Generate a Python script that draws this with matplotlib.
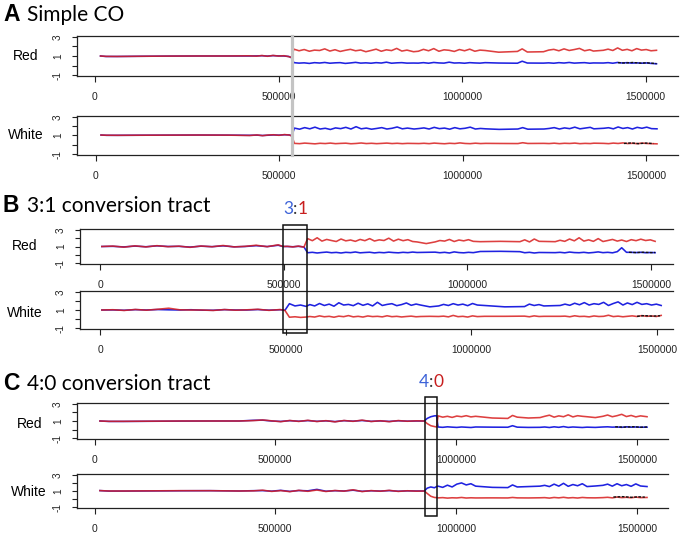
import matplotlib
matplotlib.use("Agg")
import matplotlib.pyplot as plt
import matplotlib.transforms as mtrans
from matplotlib.lines import Line2D
from matplotlib.patches import Rectangle
import numpy as np

# ---------------- DATA (positions in kb, values = log ratio) ----------------
xticks = [0, 500000, 1000000, 1500000]
xtick_labels = ["0", "500000", "1000000", "1500000"]
yticks = [-1, 0, 1, 2, 3]
ytick_labels = ["-1", "", "1", "", "3"]

posA = [15, 30, 60, 120, 200, 280, 360, 420, 440, 455, 470, 485, 500, 515, 528, 535,
        542, 556, 570, 584, 598, 612, 626, 640, 654, 668, 682, 696, 710, 724, 738, 752, 766, 780, 794, 808, 822, 836, 850,
        868, 881,
        895, 909, 923, 937, 951, 965, 979, 993, 1007, 1021, 1035, 1049, 1063,
        1100, 1151,
        1164,
        1178, 1222,
        1236, 1250, 1264, 1278, 1292, 1306, 1320, 1334, 1348, 1358,
        1385,
        1398, 1411, 1424, 1437, 1450, 1463, 1476, 1489, 1502, 1515, 1530]
A_red_red = [1.00, 0.96, 0.95, 0.97, 0.99, 1.00, 1.00, 1.02, 0.98, 1.05, 0.97, 1.06, 0.99, 1.03, 0.93, 0.85,
             1.72, 1.55, 1.68, 1.50, 1.62, 1.58, 1.75, 1.52, 1.66, 1.48, 1.60, 1.70, 1.55, 1.63, 1.45, 1.58, 1.72, 1.50, 1.65, 1.57, 1.80, 1.52, 1.62,
             1.45, 1.50,
             1.70, 1.55, 1.78, 1.50, 1.65, 1.60, 1.48, 1.68, 1.55, 1.72, 1.50, 1.62, 1.58,
             1.40, 1.48,
             1.75,
             1.42, 1.45,
             1.62, 1.70, 1.55, 1.75, 1.58, 1.68, 1.80, 1.55, 1.66, 1.52,
             1.60,
             1.72, 1.58, 1.85, 1.60, 1.70, 1.55, 1.78, 1.62, 1.68, 1.55, 1.60]
A_red_blue = [1.00, 0.95, 0.95, 0.97, 0.99, 1.00, 1.00, 1.00, 1.01, 1.03, 0.99, 1.04, 1.01, 1.00, 0.95, 0.83,
              0.30, 0.25, 0.28, 0.22, 0.30, 0.26, 0.32, 0.24, 0.28, 0.30, 0.22, 0.27, 0.33, 0.25, 0.28, 0.24, 0.30, 0.26, 0.35, 0.24, 0.28, 0.30, 0.25,
              0.26, 0.25,
              0.30, 0.24, 0.32, 0.27, 0.25, 0.35, 0.26, 0.28, 0.24, 0.30, 0.27, 0.25, 0.30,
              0.26, 0.24,
              0.45,
              0.26, 0.25,
              0.28, 0.24, 0.30, 0.26, 0.32, 0.25, 0.28, 0.30, 0.24, 0.27,
              0.26,
              0.30, 0.24, 0.32, 0.26, 0.30, 0.25, 0.28, 0.24, 0.27, 0.22, 0.18]
A_white_red = [1.05, 1.03, 1.02, 1.03, 1.04, 1.05, 1.04, 1.00, 1.06, 0.98, 1.05, 1.08, 1.02, 1.10, 1.05, 0.95,
               0.15, 0.12, 0.18, 0.14, 0.10, 0.16, 0.13, 0.18, 0.12, 0.15, 0.17, 0.11, 0.14, 0.19, 0.13, 0.16, 0.12, 0.15, 0.18, 0.13, 0.16, 0.12, 0.15,
               0.14, 0.13,
               0.16, 0.12, 0.18, 0.14, 0.11, 0.16, 0.13, 0.20, 0.14, 0.12, 0.17, 0.13, 0.15,
               0.14, 0.13,
               0.22,
               0.14, 0.15,
               0.13, 0.17, 0.12, 0.16, 0.14, 0.18, 0.12, 0.15, 0.13, 0.17,
               0.15,
               0.12, 0.18, 0.14, 0.20, 0.13, 0.16, 0.12, 0.18, 0.14, 0.12, 0.10]
A_white_blue = [1.05, 1.02, 1.02, 1.03, 1.04, 1.05, 1.04, 1.02, 1.04, 1.00, 1.03, 1.06, 1.04, 1.08, 1.06, 0.97,
                1.80, 1.68, 1.85, 1.72, 1.90, 1.70, 1.78, 1.65, 1.82, 1.74, 1.88, 1.70, 1.95, 1.72, 1.80, 1.68, 1.76, 1.85, 1.70, 1.78, 1.92, 1.72, 1.80,
                1.70, 1.75,
                1.82, 1.70, 1.88, 1.74, 1.80, 1.68, 1.85, 1.72, 1.78, 1.90, 1.70, 1.76, 1.72,
                1.66, 1.70,
                1.85,
                1.68, 1.70,
                1.76, 1.85, 1.70, 1.82, 1.74, 1.90, 1.72, 1.80, 1.88, 1.72,
                1.78,
                1.84, 1.72, 1.92, 1.76, 1.85, 1.70, 1.88, 1.78, 1.90, 1.74, 1.72]
A_red_black_pos = [1425, 1445, 1465, 1485, 1505, 1530]
A_red_black = [0.30, 0.26, 0.32, 0.25, 0.28, 0.20]
A_white_black_pos = [1440, 1460, 1480, 1500, 1520]
A_white_black = [0.14, 0.20, 0.12, 0.18, 0.13]

posB = [5, 35, 65, 95, 125, 155, 185, 215, 245, 275, 305, 335, 365, 395, 425, 455, 485, 498,
        510, 525, 540, 555,
        565, 578, 591, 604, 617, 630, 643, 656, 669, 682, 695, 708, 721, 734, 747, 760, 773, 786, 799, 812, 825, 838, 851, 863,
        888, 912,
        925, 938, 951, 964, 977, 990, 1003, 1016, 1035,
        1090, 1143,
        1156, 1169, 1182, 1195,
        1239,
        1252, 1265, 1278, 1291, 1304, 1317, 1330, 1343, 1356, 1369, 1382, 1395, 1408, 1420, 1433, 1446, 1459, 1472, 1485, 1498, 1511]
B_red_red = [1.00, 1.05, 0.92, 1.08, 0.95, 1.10, 0.98, 1.04, 0.90, 1.06, 0.97, 1.12, 0.95, 1.02, 1.15, 0.98, 1.20, 1.00,
             1.02, 0.95, 1.05, 0.92,
             1.95, 1.70, 2.05, 1.65, 1.85, 1.72, 1.60, 1.90, 1.68, 1.78, 1.62, 1.85, 1.70, 1.95, 1.66, 1.80, 1.72, 2.00, 1.65, 1.88, 1.70, 1.82, 1.60, 1.55,
             1.35, 1.55,
             1.72, 1.65, 1.85, 1.60, 1.78, 1.68, 1.82, 1.62, 1.58,
             1.62, 1.58,
             1.80, 1.55, 1.90, 1.62,
             1.58,
             1.75, 1.62, 1.90, 1.68, 2.05, 1.65, 1.80, 1.62, 1.95, 1.60, 1.72, 1.85, 1.65, 1.78, 1.60, 1.82, 1.70, 1.88, 1.72, 1.80, 1.62]
B_red_blue = [1.00, 1.02, 0.95, 1.05, 0.97, 1.08, 1.00, 1.02, 0.93, 1.04, 0.98, 1.08, 0.96, 1.00, 1.10, 0.99, 1.15, 1.00,
              1.00, 0.97, 1.02, 0.95,
              0.25, 0.30, 0.22, 0.28, 0.33, 0.25, 0.29, 0.22, 0.30, 0.26, 0.34, 0.24, 0.28, 0.31, 0.23, 0.29, 0.25, 0.32, 0.27, 0.24, 0.30, 0.26, 0.33, 0.28,
              0.30, 0.32,
              0.25, 0.30, 0.22, 0.35, 0.27, 0.24, 0.30, 0.26, 0.40,
              0.42, 0.38,
              0.25, 0.30, 0.22, 0.28,
              0.26,
              0.30, 0.24, 0.33, 0.27, 0.25, 0.30, 0.23, 0.28, 0.35, 0.26, 0.30, 0.24, 0.38, 0.85, 0.30, 0.30, 0.27, 0.30, 0.25, 0.28, 0.26]
B_white_red = [1.00, 1.03, 0.95, 1.06, 0.98, 1.08, 1.20, 1.02, 1.00, 1.00, 0.95, 1.05, 0.98, 1.02, 1.08, 0.96, 1.05, 0.95,
               0.20, 0.25, 0.18, 0.22,
               0.28, 0.22, 0.35, 0.25, 0.30, 0.20, 0.32, 0.26, 0.38, 0.24, 0.30, 0.22, 0.34, 0.27, 0.30, 0.24, 0.36, 0.26, 0.30, 0.23, 0.28, 0.32, 0.25, 0.28,
               0.30, 0.28,
               0.32, 0.24, 0.40, 0.26, 0.30, 0.22, 0.35, 0.27, 0.30,
               0.30, 0.32,
               0.25, 0.35, 0.28, 0.30,
               0.30,
               0.32, 0.25, 0.36, 0.28, 0.30, 0.24, 0.34, 0.28, 0.30, 0.42, 0.27, 0.32, 0.25, 0.30, 0.35, 0.28, 0.38, 0.30, 0.34, 0.28, 0.40]
B_white_blue = [1.00, 1.01, 0.97, 1.04, 1.00, 1.05, 1.02, 1.00, 1.03, 0.98, 0.97, 1.04, 1.00, 1.00, 1.05, 0.98, 1.03, 0.97,
                1.70, 1.45, 1.55, 1.40,
                1.60, 1.45, 1.72, 1.50, 1.65, 1.42, 1.80, 1.55, 1.62, 1.48, 1.75, 1.52, 1.68, 1.45, 1.85, 1.50, 1.62, 1.70, 1.48, 1.60, 1.78, 1.52, 1.66, 1.55,
                1.35, 1.45,
                1.62, 1.50, 1.70, 1.55, 1.65, 1.48, 1.72, 1.55, 1.50,
                1.35, 1.38,
                1.65, 1.50, 1.60, 1.45,
                1.50,
                1.65, 1.52, 1.75, 1.58, 1.82, 1.55, 1.70, 1.62, 1.85, 1.50, 1.72, 1.90, 1.55, 1.78, 1.60, 1.85, 1.62, 1.70, 1.55, 1.65, 1.50]
B_red_black_pos = [1440, 1460, 1480, 1500, 1511]
B_red_black = [0.30, 0.27, 0.31, 0.26, 0.28]
B_white_black_pos = [1446, 1466, 1486, 1508]
B_white_black = [0.30, 0.38, 0.32, 0.36]

posC = [15, 40, 80, 160, 240, 320, 400, 440, 465, 490, 515, 540, 565, 590, 615, 640, 665, 690, 715, 740, 765, 790, 815, 840, 865, 890, 912,
        920, 930, 940, 946,
        950, 963, 976, 989, 1002, 1015, 1028, 1041, 1054,
        1100, 1143,
        1156, 1169,
        1200, 1232,
        1245, 1258, 1271, 1284, 1297, 1310, 1323, 1336, 1349, 1362,
        1385, 1406,
        1419, 1432, 1445, 1458, 1471, 1484, 1497, 1510, 1528]
C_red_red = [1.00, 0.96, 0.96, 0.98, 1.00, 1.00, 1.00, 1.05, 1.12, 1.02, 0.92, 1.06, 0.95, 1.08, 0.94, 1.04, 0.90, 1.06, 0.96, 1.10, 0.94, 1.03, 0.92, 1.05, 0.97, 1.02, 1.00,
             0.70, 0.45, 0.35, 0.30,
             1.60, 1.45, 1.55, 1.42, 1.58, 1.50, 1.62, 1.48, 1.55,
             1.35, 1.30,
             1.65, 1.45,
             1.35, 1.40,
             1.55, 1.68, 1.45, 1.60, 1.50, 1.72, 1.48, 1.62, 1.55, 1.50,
             1.40, 1.55,
             1.70, 1.50, 1.62, 1.78, 1.52, 1.65, 1.48, 1.60, 1.50]
C_red_blue = [1.00, 0.95, 0.95, 0.97, 0.99, 1.00, 1.00, 1.08, 1.10, 1.00, 0.95, 1.04, 0.97, 1.05, 0.96, 1.02, 0.93, 1.04, 0.98, 1.06, 0.96, 1.01, 0.95, 1.03, 0.98, 1.00, 1.00,
              1.30, 1.50, 1.60, 1.62,
              0.30, 0.26, 0.32, 0.28, 0.25, 0.30, 0.27, 0.24, 0.30,
              0.28, 0.27,
              0.45, 0.28,
              0.25, 0.26,
              0.30, 0.24, 0.32, 0.26, 0.35, 0.25, 0.30, 0.27, 0.24, 0.28,
              0.25, 0.30,
              0.32, 0.28, 0.30, 0.26, 0.32, 0.28, 0.30, 0.27, 0.28]
C_white_red = [1.05, 1.00, 1.00, 1.02, 1.04, 1.04, 1.00, 1.02, 1.10, 0.95, 1.05, 0.92, 1.08, 0.96, 1.12, 0.94, 1.06, 0.98, 1.15, 0.93, 1.05, 0.97, 1.08, 0.95, 1.03, 0.98, 1.00,
               0.70, 0.35, 0.20, 0.18,
               0.15, 0.18, 0.12, 0.16, 0.14, 0.20, 0.13, 0.16, 0.14,
               0.15, 0.14,
               0.20, 0.15,
               0.14, 0.16,
               0.18, 0.12, 0.20, 0.15, 0.22, 0.14, 0.18, 0.13, 0.20, 0.16,
               0.15, 0.18,
               0.22, 0.15, 0.25, 0.18, 0.22, 0.16, 0.24, 0.18, 0.20]
C_white_blue = [1.05, 0.99, 0.99, 1.01, 1.03, 1.04, 1.00, 1.04, 1.05, 0.98, 1.08, 0.95, 1.06, 1.02, 1.20, 0.97, 1.04, 1.00, 1.10, 0.96, 1.03, 0.99, 1.05, 0.97, 1.02, 1.00, 1.00,
                1.35, 1.50, 1.40, 1.55,
                1.60, 1.45, 1.72, 1.50, 1.85, 2.00, 1.75, 1.90, 1.60,
                1.45, 1.42,
                1.75, 1.50,
                1.55, 1.60,
                1.70, 1.55, 1.85, 1.60, 1.95, 1.58, 1.80, 1.65, 1.90, 1.55,
                1.62, 1.70,
                1.85, 1.60, 1.90, 1.65, 1.80, 1.58, 1.88, 1.62, 1.55]
C_red_black_pos = [1440, 1465, 1490, 1510, 1528]
C_red_black = [0.32, 0.28, 0.33, 0.27, 0.30]
C_white_black_pos = [1435, 1460, 1485, 1505, 1522]
C_white_black = [0.25, 0.30, 0.22, 0.28, 0.24]

event_A_kb = 538
tract_B_kb = (498, 563)
tract_C_kb = (914, 947)

# ---------------- LAYOUT ----------------
W, H = 680, 534
fig = plt.figure(figsize=(W / 100, H / 100), dpi=100)
fig.patch.set_facecolor("white")

RED = "#d81e1e"
BLUE = "#1f22e0"


def px_rect(l, t, r, b):
    return [l / W, 1 - b / H, (r - l) / W, (b - t) / H]


def make_panel(l, t, r, b, x0px, s500):
    ax = fig.add_axes(px_rect(l, t, r, b))
    k = 500000.0 / s500
    ax.set_xlim((l - x0px) * k, (r - x0px) * k)
    ax.set_ylim(-1.105, 3.105)
    for side in ["left", "top", "bottom"]:
        ax.spines[side].set_linewidth(0.9)
        ax.spines[side].set_color("#222222")
    ax.spines["right"].set_visible(False)
    ax.set_xticks(xticks)
    ax.set_xticklabels(xtick_labels, fontsize=7.4, family="Liberation Sans")
    ax.set_yticks(yticks)
    ax.set_yticklabels(ytick_labels, fontsize=7.2, family="Liberation Sans", rotation=90, va="center")
    ax.tick_params(axis="x", direction="out", length=4.3, width=0.8, pad=7.5, colors="#222222")
    ax.tick_params(axis="y", direction="out", length=3.6, width=0.8, pad=6.5, colors="#222222")
    return ax


def draw(ax, pos, red, blue, bpos, bvals):
    assert len(pos) == len(red) == len(blue), (len(pos), len(red), len(blue))
    x = np.array(pos) * 1000
    ax.plot(x, blue, color=BLUE, lw=1.15, solid_joinstyle="round")
    ax.plot(x, red, color=RED, lw=1.15, alpha=0.85, solid_joinstyle="round")
    ax.plot(np.array(bpos) * 1000, bvals, color="#111111", lw=1.0, ls=(0, (2, 1)))


axAr = make_panel(77, 36, 678, 76, 95, 183.5)
axAw = make_panel(77, 116, 678, 155, 95.5, 183.5)
axBr = make_panel(80, 229, 673, 264, 100, 183.7)
axBw = make_panel(80, 291, 673, 329, 100, 185.7)
axCr = make_panel(77, 403, 668, 439, 94.5, 180.8)
axCw = make_panel(77, 474, 668, 508, 94.5, 180.8)

draw(axAr, posA, A_red_red, A_red_blue, A_red_black_pos, A_red_black)
draw(axAw, posA, A_white_red, A_white_blue, A_white_black_pos, A_white_black)
draw(axBr, posB, B_red_red, B_red_blue, B_red_black_pos, B_red_black)
draw(axBw, posB, B_white_red, B_white_blue, B_white_black_pos, B_white_black)
draw(axCr, posC, C_red_red, C_red_blue, C_red_black_pos, C_red_black)
draw(axCw, posC, C_white_red, C_white_blue, C_white_black_pos, C_white_black)

# gray crossover line in A
trA = mtrans.blended_transform_factory(axAr.transData, fig.transFigure)
fig.lines.append(Line2D([event_A_kb * 1000] * 2, [1 - 36 / H, 1 - 155 / H], transform=trA,
                        color="#c4c4c4", lw=2.3, zorder=5))

# conversion tract boxes
trB = mtrans.blended_transform_factory(axBr.transData, fig.transFigure)
fig.patches.append(Rectangle((tract_B_kb[0] * 1000, 1 - 333 / H), (tract_B_kb[1] - tract_B_kb[0]) * 1000,
                             (333 - 225) / H, transform=trB, fill=False, ec="#111111", lw=1.1, zorder=5))
trC = mtrans.blended_transform_factory(axCr.transData, fig.transFigure)
fig.patches.append(Rectangle((tract_C_kb[0] * 1000, 1 - 516 / H), (tract_C_kb[1] - tract_C_kb[0]) * 1000,
                             (516 - 397) / H, transform=trC, fill=False, ec="#111111", lw=1.1, zorder=5))


def ftext(xp, yp, s, **kw):
    return fig.text(xp / W, 1 - yp / H, s, **kw)


# panel titles
for letter, title, yb in [("A", "Simple CO", 21), ("B", "3:1 conversion tract", 212), ("C", "4:0 conversion tract", 390)]:
    ftext(3, yb, letter, fontsize=16.5, fontweight="bold", family="Liberation Sans", va="baseline")
    ftext(27, yb, title, fontsize=15, family="Lato", va="baseline")

# row labels
for xc, yc, s in [(26, 56, "Red"), (26, 135, "White"), (24.5, 246, "Red"), (24.5, 313, "White"),
                  (29.5, 424, "Red"), (29, 492, "White")]:
    ftext(xc, yc, s, fontsize=10, family="Liberation Sans", ha="center", va="center")


# ratio labels with mixed colours
def ratio_label(xp, yb, parts):
    fig.canvas.draw()
    r = fig.canvas.get_renderer()
    x = xp
    for s, c in parts:
        t = ftext(x, yb, s, fontsize=12.5, family="Lato", color=c, va="baseline")
        bb = t.get_window_extent(renderer=r)
        x += bb.width


ratio_label(283, 214, [("3", "#3d63d8"), (":", "#333333"), ("1", "#c81e1e")])
ratio_label(419, 387, [("4", "#3d63d8"), (":", "#333333"), ("0", "#c81e1e")])

fig.savefig("out.png", dpi=100, facecolor="white")
